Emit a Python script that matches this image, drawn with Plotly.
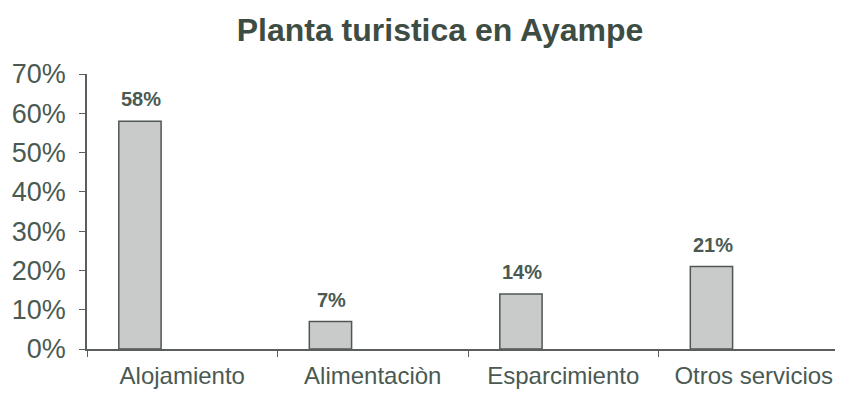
import plotly.graph_objects as go

categories = ["Alojamiento", "Alimentaciòn", "Esparcimiento", "Otros servicios"]
values = [0.58, 0.07, 0.14, 0.21]
labels = ["58%", "7%", "14%", "21%"]
y_ticks = [0, 0.1, 0.2, 0.3, 0.4, 0.5, 0.6, 0.7]

text_color = "#4a5a52"

fig = go.Figure()
fig.add_trace(go.Bar(
    x=categories, y=values,
    width=0.222, offset=-0.333,
    marker=dict(color="#c9cbca", line=dict(color="#4f5752", width=1.5)),
    hoverinfo="skip",
))

for c, v, t in zip(categories, values, labels):
    fig.add_annotation(
        x=c, y=v, text="<b>" + t + "</b>", showarrow=False,
        xshift=-41, yshift=22, yanchor="middle",
        font=dict(family="Arial, Liberation Sans", size=20, color=text_color),
    )

fig.update_layout(
    width=843, height=400,
    margin=dict(l=79, r=2, t=66, b=59),
    paper_bgcolor="white", plot_bgcolor="white",
    showlegend=False,
    title=dict(
        text="<b>Planta turistica en Ayampe</b>",
        x=432 / 843, xanchor="center", xref="container",
        y=1 - 22 / 400, yanchor="middle",
        font=dict(family="Arial, Liberation Sans", size=32, color="#3d4d44"),
    ),
    font=dict(family="Arial, Liberation Sans", color=text_color),
)

fig.update_xaxes(
    showline=True, linecolor="#5a5f5c", linewidth=1.5,
    ticks="outside", tickson="boundaries", ticklen=6, tickcolor="#5a5f5c",
    tickfont=dict(size=24, color=text_color), ticklabelstandoff=4,
    showgrid=False, zeroline=False, automargin=False,
)
fig.update_yaxes(
    range=[0, 0.7], tickvals=y_ticks, tickformat=".0%",
    showline=True, linecolor="#5a5f5c", linewidth=1.5,
    ticks="outside", ticklen=6, tickcolor="#5a5f5c",
    tickfont=dict(size=27, color=text_color), ticklabelstandoff=8,
    showgrid=False, zeroline=False, automargin=False,
)

fig.write_html("out.html")
